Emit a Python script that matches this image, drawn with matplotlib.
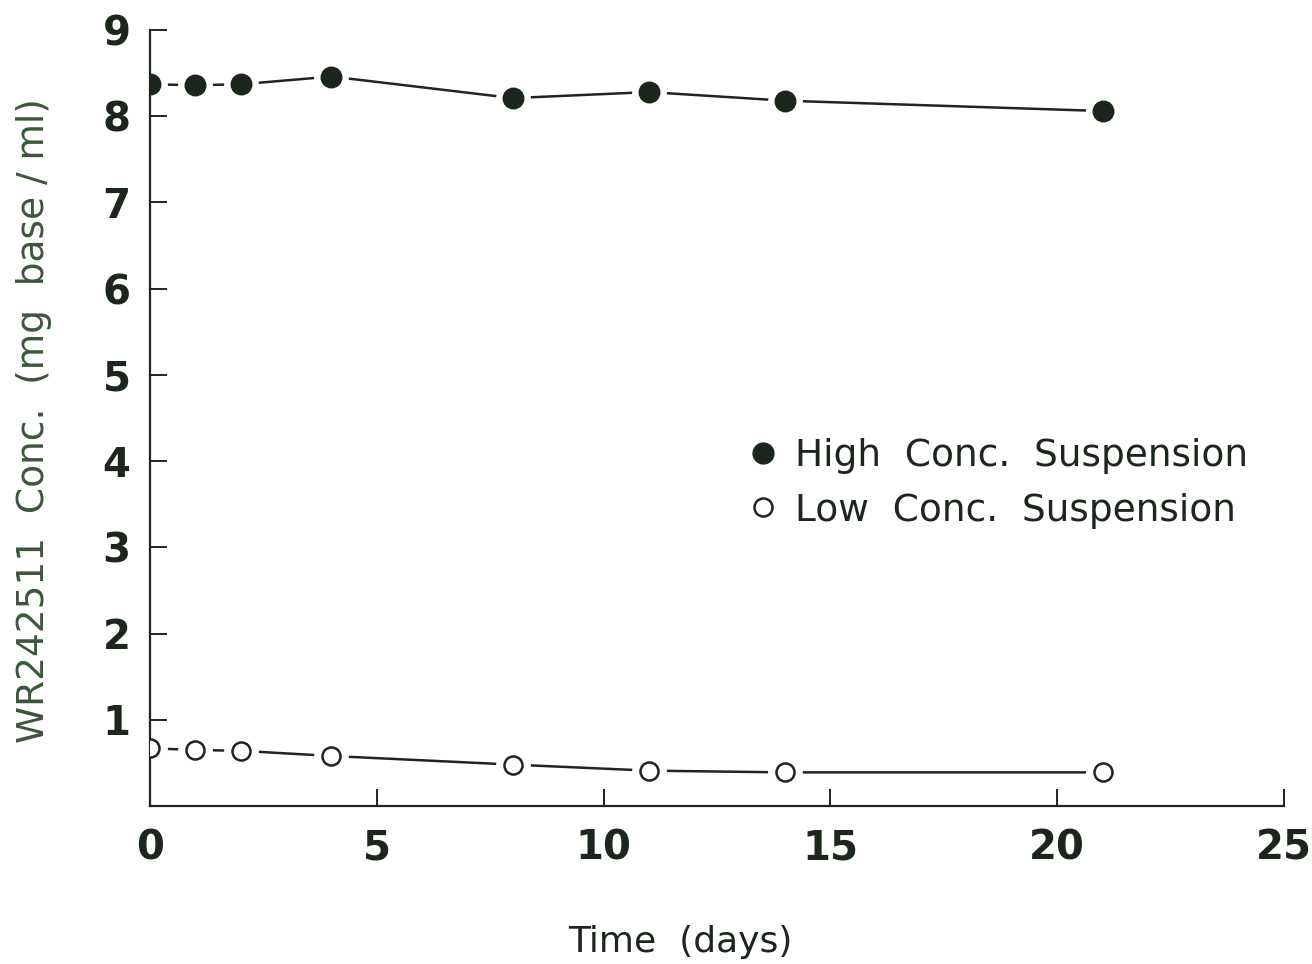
import matplotlib
matplotlib.use("Agg")
import matplotlib.pyplot as plt
from matplotlib.lines import Line2D

days = [0, 1, 2, 4, 8, 11, 14, 21]
high_conc = [8.37, 8.36, 8.37, 8.46, 8.21, 8.28, 8.18, 8.06]
low_conc = [0.67, 0.65, 0.64, 0.58, 0.48, 0.41, 0.39, 0.39]

x_ticks = [0, 5, 10, 15, 20, 25]
y_ticks = [1, 2, 3, 4, 5, 6, 7, 8, 9]

ink = "#1c261c"
label_col = "#3b563b"

fig = plt.figure(figsize=(13.12, 9.64), dpi=100)
ax = fig.add_axes([0.1143, 0.1639, 0.8644, 0.805])

for vals, face in [(high_conc, ink), (low_conc, "white")]:
    ax.plot(days, vals, color=ink, lw=1.8, zorder=1)
    # white halo so the line stops short of each marker
    ax.plot(days, vals, ls="none", marker="o", ms=24, mfc="white", mec="white", zorder=2)
    ax.plot(days, vals, ls="none", marker="o", ms=14 if face == ink else 13,
            mfc=face, mec=ink, mew=1.8, zorder=3)

ax.set_xlim(0, 25)
ax.set_ylim(0, 9)
ax.spines["top"].set_visible(False)
ax.spines["right"].set_visible(False)
for s in ["left", "bottom"]:
    ax.spines[s].set_color(ink)
    ax.spines[s].set_linewidth(1.6)

ax.set_xticks(x_ticks)
ax.set_yticks(y_ticks)
ax.tick_params(axis="both", direction="in", length=12, width=1.4, color=ink,
               labelsize=29, labelcolor=ink)
ax.tick_params(axis="x", pad=16)
ax.tick_params(axis="y", pad=14)
for t in ax.get_xticklabels() + ax.get_yticklabels():
    t.set_fontweight("bold")

ax.set_xlabel("Time  (days)", fontsize=26, color=ink)
ax.xaxis.set_label_coords(0.468, -0.153)
ax.set_ylabel("WR242511  Conc.  (mg  base / ml)", fontsize=27, color=label_col)
ax.yaxis.set_label_coords(-0.086, 0.497)

handles = [
    Line2D([], [], ls="none", marker="o", ms=15, mfc=ink, mec=ink),
    Line2D([], [], ls="none", marker="o", ms=13, mfc="white", mec=ink, mew=1.8),
]
ax.legend(handles, ["High  Conc.  Suspension", "Low  Conc.  Suspension"],
          loc="upper left", bbox_to_anchor=(0.501, 0.518), frameon=False,
          fontsize=27, handlelength=0.6, handletextpad=0.55, labelspacing=0.5,
          labelcolor=ink)

fig.savefig("out.png", dpi=100, facecolor="white")
